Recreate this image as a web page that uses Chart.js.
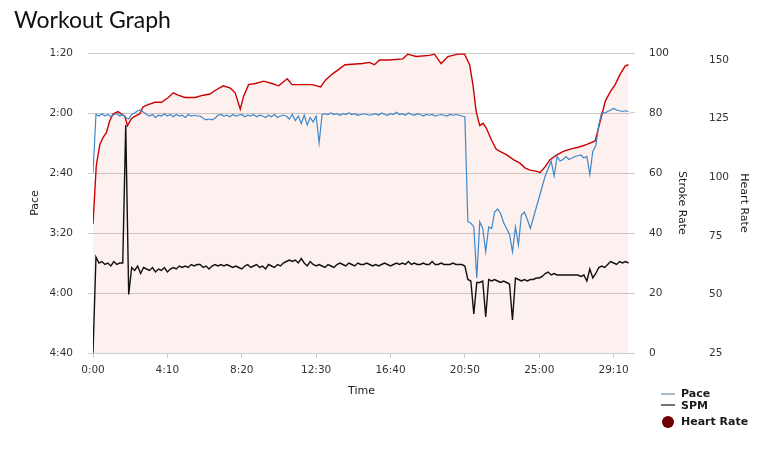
<!DOCTYPE html>
<html>
<head>
<meta charset="utf-8">
<title>Workout Graph</title>
<script src="https://cdn.jsdelivr.net/npm/chart.js@4.4.1/dist/chart.umd.min.js"></script>
<style>
    html, body { margin: 0; padding: 0; background: #fff; }
    #wrap { position: relative; width: 769px; height: 452px; overflow: hidden; }
    #graph { position: absolute; left: 0; top: 0; }
    h1 { position: absolute; left: 14px; top: 8px; margin: 0; font: 400 23px/1 Lato, sans-serif; color: #111; }
    .legend-text { position: absolute; left: 681px; font: bold 11px/13px "DejaVu Sans", sans-serif; color: #1a1a1a; white-space: nowrap; }
    .legend-line { position: absolute; left: 661px; width: 14px; height: 2px; }
    .legend-dot { position: absolute; left: 662px; width: 12px; height: 12px; border-radius: 50%; background: #6e0000; }
</style>
</head>
<body>
<div id="wrap">
    <canvas id="graph" width="769" height="452"></canvas>
    <h1>Workout Graph</h1>
    <span class="legend-line" style="top:393px; background:#adbacb"></span>
    <span class="legend-text" style="top:387px">Pace</span>
    <span class="legend-line" style="top:404px; background:#6f7479"></span>
    <span class="legend-text" style="top:399px">SPM</span>
    <span class="legend-dot" style="top:416px"></span>
    <span class="legend-text" style="top:415px">Heart Rate</span>
</div>
<script>
// pace (sec / 500m) and stroke rate, one sample every 10 s starting at 0:00
const SAMPLE_STEP = 10;

const paceValues = [
    160,
    121, 122, 120.5, 122, 121, 122.5, 121, 120.5, 122, 121,
    123, 124, 121,
    120, 118.5, 118, 119.5, 121,
    122, 121, 123, 121.5, 122, 120.5, 122, 121, 122.5, 121, 122, 121.5, 123, 121, 122, 121.5, 122,
    122, 123.5, 124.5, 124, 124.5, 123.5, 121.5,
    121, 122, 121.5, 122.5, 121, 122, 121.5, 121, 122.5, 121.5, 122, 121, 122.5, 121.5, 122, 123, 121.5, 122.5, 121, 123, 122, 121.5,
    122, 124, 121, 125, 122, 127, 121.5, 128, 123, 126, 122, 140,
    121, 120.5, 121, 120, 121, 120.5, 121.5, 120.5, 121, 120,
    121, 120.5, 121.5, 121, 120.5, 121, 121.5, 121, 120.5, 121.5,
    120, 121, 121.5, 120.5, 121, 119.5, 121, 120.5, 121.5, 120,
    121, 121.5, 120.5, 121, 122, 121, 121.5, 121, 122, 121.5,
    121, 121.5, 122, 121, 121.5, 121, 121.5, 122, 122.5,
    192.5, 193.5, 196, 230, 192.5, 197, 212.5, 196, 197, 186,
    184, 187, 193, 197, 201, 212.5, 196, 208, 188, 186,
    191, 197, 190, 183, 176, 169, 162, 157, 152, 162,
    149, 152, 151, 149, 151, 150, 149, 148.5, 148, 150,
    149, 161, 145.5, 142, 128, 119.5, 120, 119, 118, 117,
    118, 118.5, 119, 118.5, 119
];

const spmValues = [
    0,
    32, 30, 30.5, 29.5, 30, 29, 30.5, 29.5, 30, 30,
    76, 19.5, 28.5,
    27.5, 29, 26.5, 28.5, 28, 27.5, 28.5, 27, 28, 27.5, 28.5, 27, 28, 28.5, 28, 29,
    28.5, 29, 28.5, 29.5, 29, 29.5, 29.5, 28.5, 29, 28, 29, 29.5, 29, 29.5, 29, 29.5,
    29, 28.5, 29, 28.5, 28, 29, 29.5, 28.5, 29, 29.5,
    28.5, 29, 28, 29.5, 29, 28.5, 29.5, 29, 30, 30.5,
    31, 30.5, 31, 30, 31.5, 30, 29, 30.5, 29.5, 29,
    29.5, 29, 28.5, 29.5, 29, 28.5, 29.5, 30, 29.5, 29,
    30, 29.5, 29, 30, 29.5,
    29.5, 30, 29.5, 29, 29.5, 29, 29.5, 30, 29.5, 29,
    29.5, 30, 29.5, 30, 29.5, 30.5, 29.5, 30, 29.5, 29.5,
    30, 29.5, 29.5, 30.5, 29.5, 29.5, 30, 29.5, 29.5, 29.5,
    30, 29.5, 29.5, 29.5, 29,
    24.5, 24, 13, 23.5, 23.5, 24, 12, 24.5, 24, 24.5,
    24, 23.5, 24, 23.5, 23, 11, 25, 24.5, 24, 24.5,
    24, 24.5, 24.5, 25, 25, 25.5, 26.5, 27, 26, 26.5,
    26, 26, 26, 26, 26, 26, 26, 26, 25.5, 26,
    24, 28, 25, 26.5, 28.5, 29, 28.5, 29.5, 30.5, 30,
    29.5, 30.5, 30, 30.5, 30
];

// heart rate, sampled where the line changes direction
const hrTimes = [
    0, 11, 23, 34, 45, 56, 67, 84, 95, 107,
    116, 129, 140, 157, 168, 185, 208, 230, 253, 270,
    286, 309, 343, 371, 393, 410, 438, 462, 478, 495,
    506, 523, 546, 574, 602, 624, 653, 669, 737, 765,
    782, 804, 826, 847, 906, 929, 946, 963, 996, 1041,
    1058, 1086, 1131, 1148, 1170, 1193, 1226, 1249, 1266, 1277,
    1288, 1300, 1311, 1322, 1339, 1355, 1368, 1391, 1413, 1435,
    1452, 1469, 1492, 1503, 1520, 1536, 1559, 1581, 1604, 1637,
    1660, 1688, 1705, 1722, 1739, 1755, 1772, 1789, 1800
];
const hrValues = [
    80, 105, 114, 117, 119, 124, 127, 128, 127, 126,
    122, 125, 126, 127, 130, 131, 132, 132, 134, 136,
    135, 134, 134, 135, 135.5, 137, 139, 138, 136, 129,
    134.5, 139.5, 140, 141, 140, 139, 142, 139.5, 139.5, 138.5,
    141.5, 144, 146, 148, 148.5, 149, 148, 150, 150, 150.5,
    152.5, 151.5, 152, 152.5, 148.5, 151.5, 152.5, 152.5, 148, 139.5,
    128, 122, 123, 121, 116, 112, 111, 109.5, 107.5, 106,
    104, 103, 102.5, 102, 104.5, 107.5, 109.5, 111, 112, 113,
    114, 115.5, 124, 132.5, 136.5, 139.5, 144, 147.5, 148
];

// axis ranges and tick positions
const timeMax = 1805;
const timeTicks = [0, 250, 500, 750, 1000, 1250, 1500, 1750];
const paceRange = [80, 280];
const paceStep = 40;
const spmRange = [0, 100];
const spmStep = 20;
const hrRange = [25, 153];
const hrStep = 25;

function fmtTime(sec) {
    const m = Math.floor(sec / 60);
    const s = Math.round(sec - m * 60);
    return m + ":" + String(s).padStart(2, "0");
}

const gridColor = "#cccccc";
const tickFont = { family: "'DejaVu Sans', sans-serif", size: 10.5 };
const titleFont = { family: "'DejaVu Sans', sans-serif", size: 11 };

Chart.defaults.font.family = "'DejaVu Sans', sans-serif";
Chart.defaults.color = "#333";

const ctx = document.getElementById("graph").getContext("2d");
new Chart(ctx, {
    type: "line",
    data: {
        datasets: [
            {
                label: "Pace",
                data: paceValues.map((v, i) => ({ x: i * SAMPLE_STEP, y: v })),
                yAxisID: "pace",
                borderColor: "#3f87c9",
                borderWidth: 1.2,
                fill: false,
                order: 1
            },
            {
                label: "SPM",
                data: spmValues.map((v, i) => ({ x: i * SAMPLE_STEP, y: v })),
                yAxisID: "spm",
                borderColor: "#111111",
                borderWidth: 1.4,
                fill: false,
                order: 2
            },
            {
                label: "Heart Rate",
                data: hrTimes.map((t, i) => ({ x: t, y: hrValues[i] })),
                yAxisID: "hr",
                borderColor: "#cc0000",
                borderWidth: 1.4,
                fill: "start",
                backgroundColor: "rgba(225,100,80,0.09)",
                order: 3
            }
        ]
    },
    options: {
        responsive: false,
        animation: false,
        layout: { padding: { left: 0, right: 15, top: 53, bottom: 49 } },
        elements: { point: { radius: 0 }, line: { tension: 0 } },
        plugins: { legend: { display: false }, tooltip: { enabled: false } },
        scales: {
            x: {
                type: "linear",
                position: "bottom",
                min: 0,
                max: timeMax,
                afterFit: (s) => { s.height = 50; },
                afterBuildTicks: (s) => { s.ticks = timeTicks.map((v) => ({ value: v })); },
                ticks: { callback: (v) => fmtTime(v), font: tickFont, padding: 6, maxRotation: 0, autoSkip: false },
                grid: { drawOnChartArea: false, drawTicks: true, tickLength: 5, color: gridColor },
                border: { display: true, color: gridColor },
                title: { display: true, text: "Time", font: titleFont, color: "#222", padding: { top: 0, bottom: 5 } }
            },
            pace: {
                type: "linear",
                position: "left",
                reverse: true,
                min: paceRange[0],
                max: paceRange[1],
                afterFit: (s) => { s.width = 93; },
                ticks: { stepSize: paceStep, callback: (v) => fmtTime(v), font: tickFont, padding: 15 },
                grid: { color: gridColor, tickLength: 5 },
                border: { display: false },
                title: { display: true, text: "Pace", font: titleFont, color: "#222", padding: { top: 29, bottom: 0 } }
            },
            spm: {
                type: "linear",
                position: "right",
                min: spmRange[0],
                max: spmRange[1],
                afterFit: (s) => { s.width = 62; },
                ticks: { stepSize: spmStep, font: tickFont, padding: 14 },
                grid: { drawOnChartArea: false, color: gridColor, tickLength: 5 },
                border: { display: false },
                title: { display: true, text: "Stroke Rate", font: titleFont, color: "#222", padding: { top: 4, bottom: 0 } }
            },
            hr: {
                type: "linear",
                position: "right",
                min: hrRange[0],
                max: hrRange[1],
                afterFit: (s) => { s.width = 62; },
                ticks: { stepSize: hrStep, includeBounds: false, font: tickFont, padding: 17 },
                grid: { display: false, drawTicks: false },
                border: { display: false },
                title: { display: true, text: "Heart Rate", font: titleFont, color: "#222", padding: { top: 4, bottom: 0 } }
            }
        }
    }
});
</script>
</body>
</html>
